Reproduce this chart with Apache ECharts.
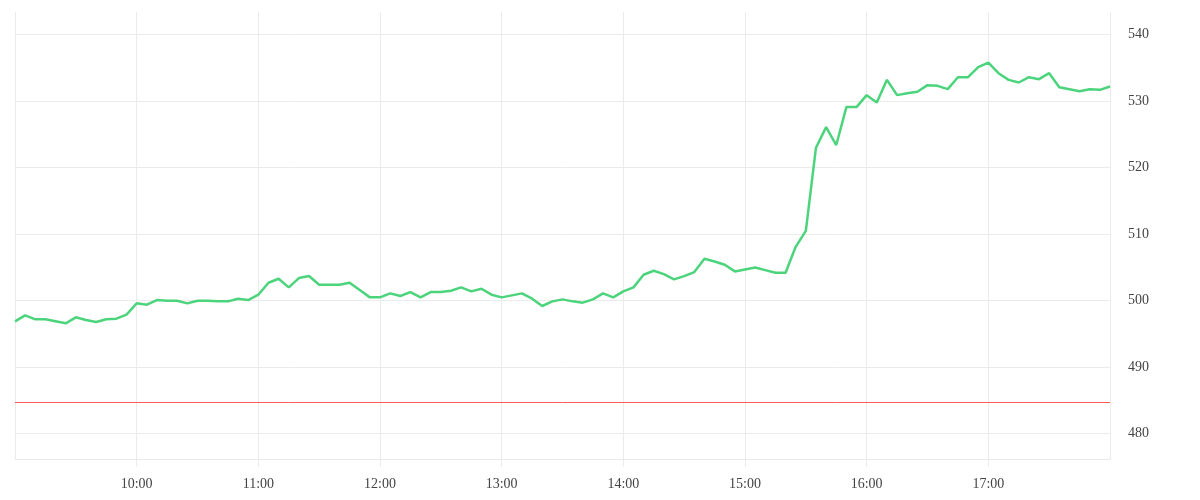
<!DOCTYPE html>
<html>
<head>
<meta charset="utf-8">
<title>Intraday price</title>
<script src="https://cdn.jsdelivr.net/npm/echarts@6/dist/echarts.min.js"></script>
<style>
  html, body { margin: 0; padding: 0; background: #fff; }
  #chart { width: 1200px; height: 500px; }
</style>
</head>
<body>
<div id="chart"></div>
<script>
// 5-minute timestamps, 09:00 - 18:00
const times = [
  "09:00", "09:05", "09:10", "09:15", "09:20", "09:25", "09:30", "09:35", "09:40", "09:45", "09:50", "09:55",
  "10:00", "10:05", "10:10", "10:15", "10:20", "10:25", "10:30", "10:35", "10:40", "10:45", "10:50", "10:55",
  "11:00", "11:05", "11:10", "11:15", "11:20", "11:25", "11:30", "11:35", "11:40", "11:45", "11:50", "11:55",
  "12:00", "12:05", "12:10", "12:15", "12:20", "12:25", "12:30", "12:35", "12:40", "12:45", "12:50", "12:55",
  "13:00", "13:05", "13:10", "13:15", "13:20", "13:25", "13:30", "13:35", "13:40", "13:45", "13:50", "13:55",
  "14:00", "14:05", "14:10", "14:15", "14:20", "14:25", "14:30", "14:35", "14:40", "14:45", "14:50", "14:55",
  "15:00", "15:05", "15:10", "15:15", "15:20", "15:25", "15:30", "15:35", "15:40", "15:45", "15:50", "15:55",
  "16:00", "16:05", "16:10", "16:15", "16:20", "16:25", "16:30", "16:35", "16:40", "16:45", "16:50", "16:55",
  "17:00", "17:05", "17:10", "17:15", "17:20", "17:25", "17:30", "17:35", "17:40", "17:45", "17:50", "17:55",
  "18:00"
];

const prices = [
  496.9, 497.8, 497.2, 497.2, 496.9, 496.6, 497.5, 497.1, 496.8, 497.2, 497.3, 497.9,
  499.6, 499.4, 500.1, 500.0, 500.0, 499.6, 500.0, 500.0, 499.9, 499.9, 500.3, 500.1,
  500.9, 502.7, 503.3, 502.0, 503.4, 503.7, 502.4, 502.4, 502.4, 502.7, 501.6, 500.5,
  500.5, 501.1, 500.7, 501.3, 500.5, 501.3, 501.3, 501.5, 502.0, 501.4, 501.8, 500.9,
  500.5, 500.8, 501.1, 500.3, 499.2, 499.9, 500.2, 499.9, 499.7, 500.2, 501.1, 500.5,
  501.4, 502.0, 503.9, 504.5, 504.0, 503.2, 503.7, 504.3, 506.3, 505.9, 505.4, 504.4,
  504.7, 505.0, 504.6, 504.2, 504.2, 508.1, 510.5, 523.0, 526.1, 523.4, 529.1, 529.1,
  530.9, 529.8, 533.2, 530.9, 531.2, 531.4, 532.4, 532.3, 531.8, 533.6, 533.6, 535.1,
  535.8, 534.2, 533.2, 532.8, 533.6, 533.3, 534.2, 532.1, 531.8, 531.5, 531.8, 531.7,
  532.2
];

const referenceLevel = 484.75;
const yRange = [476.2, 543.4];

const gridColor = "#ebebeb";
const labelColor = "#444";
const labelFont = "'Liberation Serif', 'DejaVu Serif', serif";

// one tick / gridline per hour
const hourly = function (index) {
  return index % 12 === 0;
};

let myChart = echarts.init(document.getElementById("chart"));

let option = {
  animation: false,
  grid: {
    left: 15,
    right: 90,
    top: 12,
    bottom: 41
  },
  xAxis: {
    type: "category",
    data: times,
    boundaryGap: false,
    axisLine: { show: true, lineStyle: { color: gridColor, width: 1 } },
    axisTick: { show: true, interval: hourly, length: 8, lineStyle: { color: gridColor, width: 1 } },
    axisLabel: {
      interval: hourly,
      showMinLabel: false,
      showMaxLabel: false,
      margin: 18,
      color: labelColor,
      fontFamily: labelFont,
      fontSize: 14
    },
    splitLine: { show: true, interval: hourly, lineStyle: { color: gridColor, width: 1 } }
  },
  yAxis: {
    type: "value",
    position: "right",
    min: yRange[0],
    max: yRange[1],
    axisLine: { show: false },
    axisTick: { show: false },
    axisLabel: {
      showMinLabel: false,
      showMaxLabel: false,
      margin: 18,
      color: labelColor,
      fontFamily: labelFont,
      fontSize: 14
    },
    splitLine: {
      show: true,
      showMinLine: false,
      showMaxLine: false,
      lineStyle: { color: gridColor, width: 1 }
    }
  },
  series: [
    {
      type: "line",
      data: prices,
      showSymbol: false,
      symbol: "none",
      lineStyle: { color: "#4cd47c", width: 2.5 },
      itemStyle: { color: "#4cd47c" },
      markLine: {
        silent: true,
        symbol: ["none", "none"],
        label: { show: false },
        lineStyle: { color: "#ff5b5b", width: 1, type: "solid" },
        data: [{ yAxis: referenceLevel }]
      }
    }
  ]
};

myChart.setOption(option);
</script>
</body>
</html>
